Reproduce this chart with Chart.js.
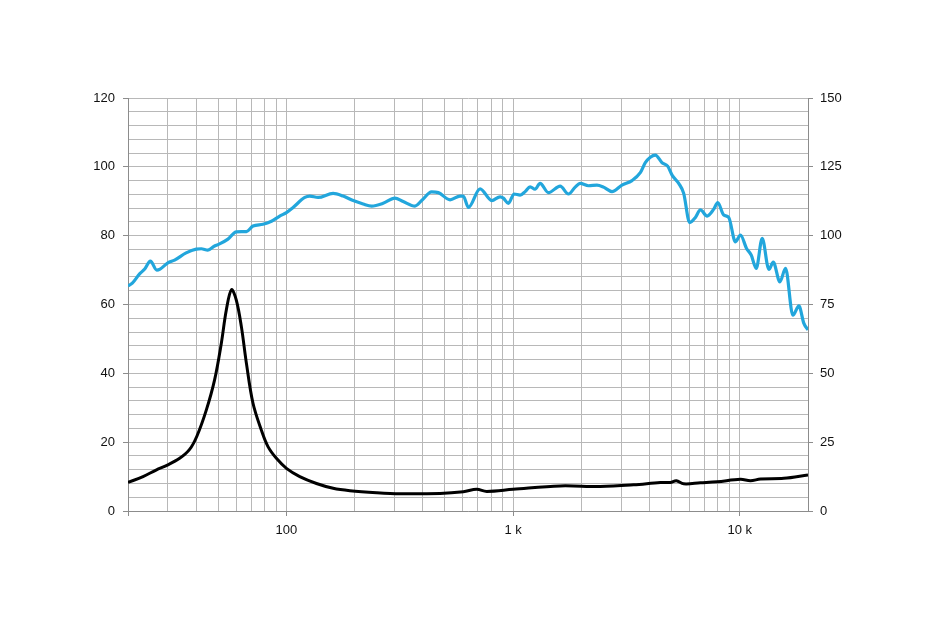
<!DOCTYPE html>
<html>
<head>
<meta charset="utf-8">
<script src="https://cdn.jsdelivr.net/npm/chart.js@4/dist/chart.umd.min.js"></script>
<style>
  html,body{margin:0;padding:0;background:#fff;}
  #wrap{position:absolute;left:0;top:0;width:935px;height:622px;}
</style>
</head>
<body>
<div id="wrap"><canvas id="chart" width="935" height="622"></canvas></div>
<script>
// frequency response (blue, left axis)
const splFreq = [20,20.9,22.5,23.7,25.1,26.8,27.7,30,32.1,36.1,40,42.1,45,48.2,50.7,55.2,60.1,66.6,71.2,78.8,85.9,93.4,100,107,120.5,126.8,137.9,160.7,178,197,218,237.5,267,301,327.5,369,395,437,468,527,583,603,635,715,805,876,906,953,1010,1074,1130,1189,1250,1315,1432,1613,1755,1879,1977,2151,2344,2507,2731,3021,3346,3641,3831,4031,4241,4540,4808,5027,5377,5657,6012,6372,6705,7178,7677,7996,8498,8942,9572,10070,10710,11230,11820,12560,13440,14050,15030,15920,17150,18230,19180,20000];
const splVal  = [65.4,66.2,68.9,70.3,72.6,70.0,70.3,72.1,72.9,75.0,76.1,76.2,75.8,77.0,77.6,79.0,81.1,81.2,82.8,83.3,84.2,85.7,86.7,88.2,91.1,91.5,91.1,92.3,91.5,90.2,89.2,88.6,89.4,90.9,89.9,88.6,90.2,92.7,92.5,90.4,91.5,91.5,88.2,93.6,90.2,91.3,90.9,89.4,92.1,91.8,92.8,94.2,93.5,95.2,92.5,94.4,92.1,94.1,95.2,94.5,94.7,94.1,92.8,94.7,96.0,98.3,101.2,102.8,103.4,101.2,100.2,97.6,95.2,92.3,83.8,85.3,87.5,85.7,87.7,89.6,86.0,85.3,78.2,80.2,76.3,74.4,70.5,79.2,70.2,72.3,66.6,70.5,56.9,59.6,54.5,52.6];

// impedance (black), read against the left scale
const impFreq = [20,23.3,26.6,30,33.8,37.4,40.3,44.3,48.2,51.6,54.3,57.2,60.1,63.3,66.6,71.2,77.5,82.9,90.3,100,114.5,135.7,160.7,190.5,250,317,476,603,691,765,1000,1613,2424,3401,4463,4940,5253,5657,6705,7950,10070,11150,12350,15650,20000];
const impVal  = [8.3,10.0,11.9,13.4,15.3,17.9,21.8,29.3,38.1,48.7,58.4,64.3,61.3,53.5,42.9,31.3,23.5,18.7,15.3,12.4,10.0,8.0,6.6,5.9,5.3,5.0,5.1,5.6,6.3,5.7,6.3,7.3,7.1,7.6,8.3,8.3,8.8,7.9,8.2,8.5,9.2,8.8,9.3,9.5,10.5];

const xGrid = [20,30,40,50,60,70,80,90,100,200,300,400,500,600,700,800,900,1000,2000,3000,4000,5000,6000,7000,8000,9000,10000,20000];
const xLabels = {100:'100',1000:'1 k',10000:'10 k'};
const xMarks = [20,100,1000,10000];

(function(){
  const gridCol = '#b8b8b8', axisCol = '#8c8c8c', txt = '#111';
  const font = { family:'"Liberation Sans", Arial, sans-serif', size:13 };
  const pts = (fs, vs) => fs.map((f,i)=>({ x:f, y:vs[i] }));

  new Chart(document.getElementById('chart'), {
    type:'line',
    data:{ datasets:[
      { data:pts(splFreq, splVal), borderColor:'#22a6dc', borderWidth:3.2, pointRadius:0, cubicInterpolationMode:'monotone', yAxisID:'y' },
      { data:pts(impFreq, impVal), borderColor:'#000', borderWidth:3, pointRadius:0, tension:0.35, yAxisID:'y' }
    ]},
    options:{
      responsive:false, animation:false, devicePixelRatio:1,
      layout:{ padding:{ top:98, left:0, right:0, bottom:0 } },
      plugins:{ legend:{ display:false }, tooltip:{ enabled:false } },
      scales:{
        x:{
          type:'logarithmic', min:20, max:20000,
          afterBuildTicks: s => { s.ticks = xGrid.map(v=>({ value:v })); },
          afterFit: s => { s.height = 111; },
          ticks:{ autoSkip:false, maxRotation:0, color:txt, font, padding:7,
            callback: v => xLabels[v] || '' },
          grid:{ color:gridCol, lineWidth:1, tickLength:5,
            tickColor: c => xMarks.includes(c.tick && c.tick.value) ? axisCol : 'rgba(0,0,0,0)' },
          border:{ color:axisCol, width:1 }
        },
        y:{
          position:'left', min:0, max:120,
          afterFit: s => { s.width = 128; },
          ticks:{ stepSize:4, autoSkip:false, color:txt, font, padding:8,
            callback: v => v % 20 === 0 ? v : '' },
          grid:{ color:gridCol, lineWidth:1, tickLength:5,
            tickColor: c => (c.tick && c.tick.value % 20 === 0) ? axisCol : 'rgba(0,0,0,0)' },
          border:{ color:axisCol, width:1 }
        },
        y2:{
          position:'right', min:0, max:150,
          afterFit: s => { s.width = 127; },
          ticks:{ stepSize:5, autoSkip:false, color:txt, font, padding:7,
            callback: v => v % 25 === 0 ? v : '' },
          grid:{ drawOnChartArea:false, tickLength:5,
            tickColor: c => (c.tick && c.tick.value % 25 === 0) ? axisCol : 'rgba(0,0,0,0)' },
          border:{ color:axisCol, width:1 }
        }
      }
    }
  });
})();
</script>
</body>
</html>
